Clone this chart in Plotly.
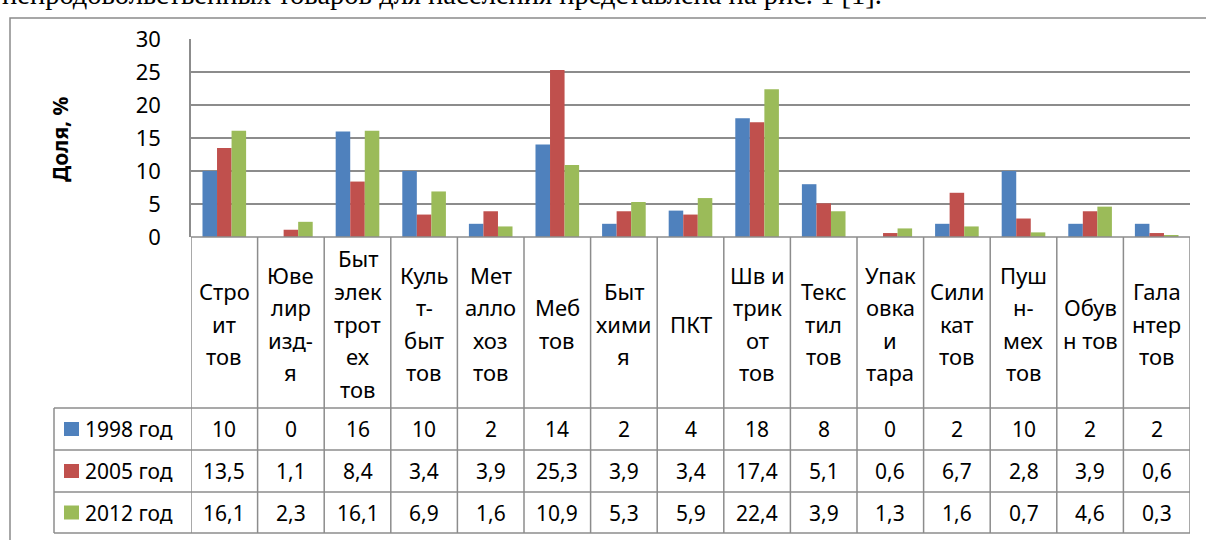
import plotly.graph_objects as go

# ---------------- data ----------------
category_lines = [
    ["Стро", "ит", "тов"],
    ["Юве", "лир", "изд-", "я"],
    ["Быт", "элек", "трот", "ех", "тов"],
    ["Куль", "т-", "быт", "тов"],
    ["Мет", "алло", "хоз", "тов"],
    ["Меб", "тов"],
    ["Быт", "хими", "я"],
    ["ПКТ"],
    ["Шв и", "трик", "от", "тов"],
    ["Текс", "тил", "тов"],
    ["Упак", "овка", "и", "тара"],
    ["Сили", "кат", "тов"],
    ["Пуш", "н-", "мех", "тов"],
    ["Обув", "н тов"],
    ["Гала", "нтер", "тов"],
]
categories = [" ".join(l) for l in category_lines]

series_names = ["1998 год", "2005 год", "2012 год"]
v1998 = [10, 0, 16, 10, 2, 14, 2, 4, 18, 8, 0, 2, 10, 2, 2]
v2005 = [13.5, 1.1, 8.4, 3.4, 3.9, 25.3, 3.9, 3.4, 17.4, 5.1, 0.6, 6.7, 2.8, 3.9, 0.6]
v2012 = [16.1, 2.3, 16.1, 6.9, 1.6, 10.9, 5.3, 5.9, 22.4, 3.9, 1.3, 1.6, 0.7, 4.6, 0.3]
series_values = [v1998, v2005, v2012]
colors = ["#4F81BD", "#C0504D", "#9BBB59"]

y_title = "Доля, %"
y_ticks = [0, 5, 10, 15, 20, 25, 30]
top_text = "непродовольственных товаров для населения представлена на рис. 1 [1]."

# ---------------- layout helpers ----------------
W, H = 1206, 540
FONT = "Noto Sans, Open Sans, sans-serif"
GRID = "#8c8c8c"


def px(x):
    return x / W


def py(y):
    return 1 - y / H


PLOT_L, PLOT_R = 191, 1190
PLOT_T, PLOT_B = 39, 237
HEAD_B = 408
ROW_EDGES = [408, 450, 492, 533]
LEG_L = 54


def fmt(v):
    if float(v).is_integer():
        return str(int(v))
    return ("%g" % v).replace(".", ",")


fig = go.Figure()
for name, vals, c in zip(series_names, series_values, colors):
    fig.add_trace(go.Bar(x=categories, y=vals, name=name, marker=dict(color=c, line_width=0),
                         showlegend=False, hoverinfo="skip"))

shapes = []
annotations = []

# vertical category boundaries (through table)
for i in range(len(categories) + 1):
    shapes.append(dict(type="line", xref="x", yref="paper", x0=i - 0.5, x1=i - 0.5,
                       y0=py(ROW_EDGES[-1]), y1=py(PLOT_B),
                       line=dict(color=GRID, width=1.5), layer="above"))
# horizontal table lines
shapes.append(dict(type="line", xref="paper", yref="paper", x0=px(PLOT_L), x1=px(PLOT_R),
                   y0=py(PLOT_B), y1=py(PLOT_B), line=dict(color=GRID, width=1.5)))
for ye in ROW_EDGES:
    shapes.append(dict(type="line", xref="paper", yref="paper", x0=px(LEG_L), x1=px(PLOT_R),
                       y0=py(ye), y1=py(ye), line=dict(color=GRID, width=1.5)))
shapes.append(dict(type="line", xref="paper", yref="paper", x0=px(LEG_L), x1=px(LEG_L),
                   y0=py(ROW_EDGES[-1]), y1=py(ROW_EDGES[0]), line=dict(color=GRID, width=1.5)))

# outer chart frame
shapes.append(dict(type="rect", xref="paper", yref="paper", x0=px(10), x1=1.2,
                   y0=-0.2, y1=py(18), line=dict(color="#8a8a8a", width=1.5)))

# category labels
LINE_H = 32.5
mid = (PLOT_B + HEAD_B) / 2 + 1
for i, lines in enumerate(category_lines):
    n = len(lines)
    for k, t in enumerate(lines):
        yc = mid + (k - (n - 1) / 2) * LINE_H
        annotations.append(dict(x=i, xref="x", y=py(yc), yref="paper", text=t, showarrow=False,
                                font=dict(family=FONT, size=22, color="black"),
                                xanchor="center", yanchor="middle"))

# table values and legend keys
for r, (name, vals, c) in enumerate(zip(series_names, series_values, colors)):
    yc = (ROW_EDGES[r] + ROW_EDGES[r + 1]) / 2
    for i, v in enumerate(vals):
        annotations.append(dict(x=i, xref="x", y=py(yc), yref="paper", text=fmt(v),
                                showarrow=False, font=dict(family=FONT, size=21, color="black"),
                                xanchor="center", yanchor="middle"))
    shapes.append(dict(type="rect", xref="paper", yref="paper", x0=px(64), x1=px(79),
                       y0=py(yc + 7), y1=py(yc - 7), fillcolor=c, line_width=0))
    annotations.append(dict(x=px(83), xref="paper", y=py(yc), yref="paper", text=name,
                            showarrow=False, font=dict(family=FONT, size=21, color="black"),
                            xanchor="left", yanchor="middle"))

# y axis title
annotations.append(dict(x=px(60), xref="paper", y=py(139), yref="paper", text="<b>%s</b>" % y_title,
                        textangle=-90, showarrow=False,
                        font=dict(family=FONT, size=21, color="black"),
                        xanchor="center", yanchor="middle"))
# cut-off text line above the chart (as in the source page)
annotations.append(dict(x=0, xref="paper", y=py(12), yref="paper", text=top_text, showarrow=False,
                        font=dict(family="Liberation Serif, Times New Roman, serif", size=28.5,
                                  color="black"),
                        xanchor="left", yanchor="bottom"))

fig.update_layout(
    width=W, height=H,
    margin=dict(l=0, r=0, t=0, b=0, pad=0, autoexpand=False),
    paper_bgcolor="white", plot_bgcolor="white",
    barmode="group", bargap=0.345, bargroupgap=0,
    hovermode=False,
    xaxis=dict(domain=[px(PLOT_L), px(PLOT_R)], range=[-0.5, len(categories) - 0.5],
               showticklabels=False, showgrid=False, zeroline=False, showline=False,
               automargin=False, fixedrange=True),
    yaxis=dict(domain=[py(PLOT_B), py(PLOT_T)], range=[0, 30], tickvals=y_ticks,
               showgrid=True, gridcolor=GRID, gridwidth=1.5, zeroline=False,
               showline=True, linecolor=GRID, linewidth=1.5, automargin=False,
               ticks="", ticklabelstandoff=24, fixedrange=True,
               tickfont=dict(family=FONT, size=22, color="black")),
    shapes=shapes,
    annotations=annotations,
    font=dict(family=FONT),
)

fig.write_html("out.html", config={"displayModeBar": False},
               post_script="document.body.style.margin='0';document.body.style.overflow='hidden';")
